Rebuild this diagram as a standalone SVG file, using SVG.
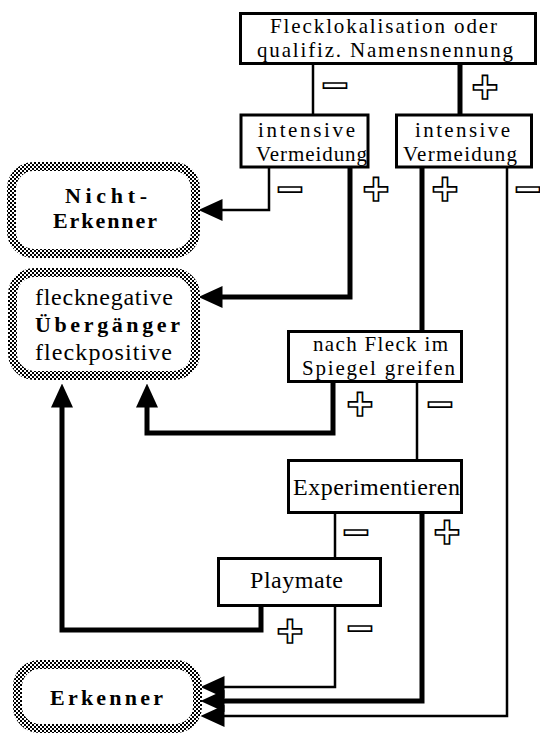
<svg xmlns="http://www.w3.org/2000/svg" width="540" height="738" viewBox="0 0 540 738">
  <defs>
    <pattern id="checker" width="4" height="4" patternUnits="userSpaceOnUse">
      <rect width="4" height="4" fill="#fff"/>
      <rect width="2" height="2" fill="#000"/>
      <rect x="2" y="2" width="2" height="2" fill="#000"/>
    </pattern>
    <marker id="head" viewBox="0 0 24 22" markerWidth="24" markerHeight="22" refX="0.5" refY="11" orient="auto" markerUnits="userSpaceOnUse">
      <path d="M0,0 L24,11 L0,22 z" fill="#000"/>
    </marker>
  </defs>
  <style>
    .box { fill: #fff; stroke: #000; stroke-width: 3; }
    .outcome { fill: #fff; stroke: url(#checker); stroke-width: 9; }
    .lbl { font-family: "Liberation Serif", "Times New Roman", serif; font-size: 24px; fill: #000; }
    .two { font-size: 21px; }
    .bold { font-family: "Liberation Serif", "Times New Roman", serif; font-size: 22px; font-weight: bold; fill: #000; }
    .sign { font-family: "Liberation Sans", Arial, sans-serif; font-size: 46px; font-weight: bold; fill: #fff; stroke: #000; stroke-width: 1.6; text-anchor: middle; }
    .thin { fill: none; stroke: #000; stroke-width: 2.5; }
    .thick { fill: none; stroke: #000; stroke-width: 5; }
  </style>
  <rect width="540" height="738" fill="#fff"/>

  <!-- connectors -->
  <g id="connectors">
    <path class="thin" d="M313,65 V115"/>
    <path class="thick" d="M460,65 V115"/>
    <path class="thin" d="M269,168 V210 H222" marker-end="url(#head)"/>
    <path class="thick" d="M350,168 V297 H222" marker-end="url(#head)"/>
    <path class="thick" d="M422,168 V330"/>
    <path class="thin" d="M507,168 V716 H224" marker-end="url(#head)"/>
    <path class="thick" d="M333,383 V433 H147 V407" marker-end="url(#head)"/>
    <path class="thin" d="M417,383 V459"/>
    <path class="thin" d="M335,514 V557"/>
    <path class="thick" d="M422,514 V701 H224" marker-end="url(#head)"/>
    <path class="thick" d="M261,607 V630 H62 V407" marker-end="url(#head)"/>
    <path class="thin" d="M335,607 V687 H224" marker-end="url(#head)"/>
    <!-- branch signs -->
    <text class="sign" x="335" y="101">−</text>
    <text class="sign" x="485" y="103">+</text>
    <text class="sign" x="290" y="205">−</text>
    <text class="sign" x="376" y="205">+</text>
    <text class="sign" x="445" y="205">+</text>
    <text class="sign" x="528" y="205">−</text>
    <text class="sign" x="360" y="420">+</text>
    <text class="sign" x="440" y="420">−</text>
    <text class="sign" x="356" y="548">−</text>
    <text class="sign" x="447" y="548">+</text>
    <text class="sign" x="290" y="647">+</text>
    <text class="sign" x="360" y="644">−</text>
  </g>

  <g id="flecklokalisation">
    <rect class="box" x="240.5" y="13.5" width="295" height="50"/>
    <text class="lbl two" x="270" y="33" textLength="227" lengthAdjust="spacing">Flecklokalisation oder</text>
    <text class="lbl two" x="257" y="57" textLength="256" lengthAdjust="spacing">qualifiz. Namensnennung</text>
  </g>

  <g id="vermeidung-links">
    <rect class="box" x="241" y="115" width="127" height="52"/>
    <text class="lbl two" x="258" y="137" textLength="97" lengthAdjust="spacing">intensive</text>
    <text class="lbl two" x="256" y="161" textLength="111" lengthAdjust="spacing">Vermeidung</text>
  </g>

  <g id="vermeidung-rechts">
    <rect class="box" x="396.5" y="115" width="135" height="52"/>
    <text class="lbl two" x="415" y="137" textLength="95" lengthAdjust="spacing">intensive</text>
    <text class="lbl two" x="403" y="161" textLength="114" lengthAdjust="spacing">Vermeidung</text>
  </g>

  <g id="spiegel">
    <rect class="box" x="288.5" y="331.5" width="173" height="50"/>
    <text class="lbl two" x="313" y="351" textLength="135" lengthAdjust="spacing">nach Fleck im</text>
    <text class="lbl two" x="302" y="375" textLength="153" lengthAdjust="spacing">Spiegel greifen</text>
  </g>

  <g id="experimentieren">
    <rect class="box" x="288.5" y="460.5" width="173" height="52"/>
    <text class="lbl" x="293" y="495" textLength="167" lengthAdjust="spacing">Experimentieren</text>
  </g>

  <g id="playmate">
    <rect class="box" x="218.5" y="558.5" width="162" height="47"/>
    <text class="lbl" x="250" y="588" textLength="93" lengthAdjust="spacing">Playmate</text>
  </g>

  <g id="nicht-erkenner">
    <rect class="outcome" x="11.5" y="166.5" width="184" height="87" rx="22"/>
    <text class="bold" x="65" y="203" textLength="82" lengthAdjust="spacing">Nicht-</text>
    <text class="bold" x="53" y="228" textLength="104" lengthAdjust="spacing">Erkenner</text>
  </g>

  <g id="uebergaenger">
    <rect class="outcome" x="12.5" y="272.5" width="183" height="103" rx="22"/>
    <text class="lbl" x="35" y="305" textLength="138" lengthAdjust="spacing">flecknegative</text>
    <text class="bold" x="35" y="332" textLength="145" lengthAdjust="spacing">Übergänger</text>
    <text class="lbl" x="35" y="360" textLength="137" lengthAdjust="spacing">fleckpositive</text>
  </g>

  <g id="erkenner">
    <rect class="outcome" x="17.5" y="664.5" width="180" height="64" rx="22"/>
    <text class="bold" x="50" y="705" textLength="113" lengthAdjust="spacing">Erkenner</text>
  </g>
</svg>
